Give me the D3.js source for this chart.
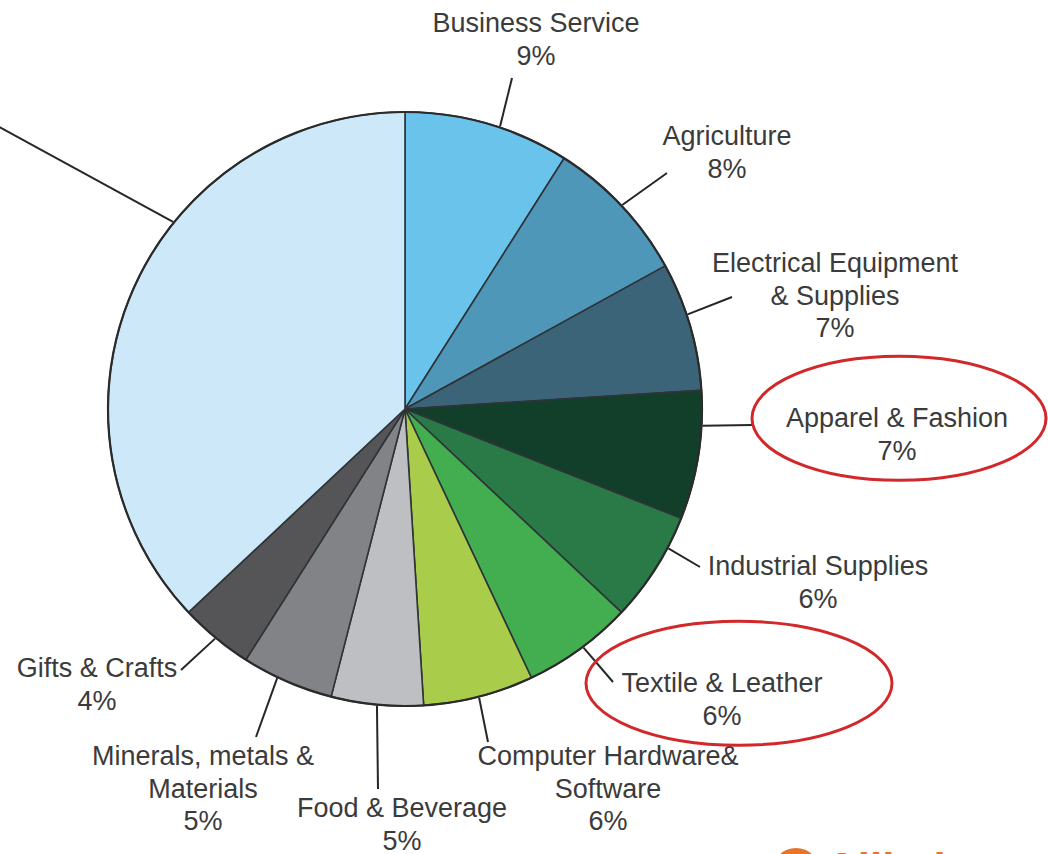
<!DOCTYPE html>
<html>
<head>
<meta charset="utf-8">
<script src="https://cdn.jsdelivr.net/npm/d3@7"></script>
<style>
  html, body { margin: 0; padding: 0; background: #ffffff; }
  #svg-graph { display: block; }
  .label { font-family: "Liberation Sans", Arial, sans-serif; font-size: 27px; fill: #3b3b3b; }
</style>
</head>
<body>
<svg id="svg-graph" width="1048" height="854"></svg>
<script>
// chart data
const categories = [
  "Business Service",
  "Agriculture",
  "Electrical Equipment & Supplies",
  "Apparel & Fashion",
  "Industrial Supplies",
  "Textile & Leather",
  "Computer Hardware& Software",
  "Food & Beverage",
  "Minerals, metals & Materials",
  "Gifts & Crafts",
  "Others",
];
const shares = [9, 8, 7, 7, 6, 6, 6, 5, 5, 4, 37];
const shareLabels = ["9%", "8%", "7%", "7%", "6%", "6%", "6%", "5%", "5%", "4%", "37%"];
const highlighted = ["Apparel & Fashion", "Textile & Leather"];

const sliceColors = [
  "#6ac3ea", "#4f97b8", "#3b6479", "#123f2a", "#2a7a47", "#43ae4f",
  "#a9cc4a", "#bdbfc2", "#818386", "#555557", "#cde8f8",
];

// where each label sits (text lines, anchor x, first baseline, leader end, rim angle shift in degrees)
// the big slice's label lies outside the picture in the original, so only its leader is drawn
const labelLayout = [
  { lines: ["Business Service"], x: 536, y: 32, end: [512, 78], shift: 2.4 },
  { lines: ["Agriculture"], x: 727, y: 145, end: [667, 173], shift: 0 },
  { lines: ["Electrical Equipment", "& Supplies"], x: 835, y: 272, end: [732, 297], shift: -2.3 },
  { lines: ["Apparel & Fashion"], x: 897, y: 427, end: [752, 425], shift: -5.8 },
  { lines: ["Industrial Supplies"], x: 818, y: 575, end: [700, 567], shift: -4.5 },
  { lines: ["Textile & Leather"], x: 722, y: 692, end: [613, 682], shift: -0.8 },
  { lines: ["Computer Hardware&", "Software"], x: 608, y: 765, end: [488, 742], shift: 0 },
  { lines: ["Food & Beverage"], x: 402, y: 817, end: [378, 789], shift: 0 },
  { lines: ["Minerals, metals &", "Materials"], x: 203, y: 765, end: [256, 737], shift: 2 },
  { lines: ["Gifts & Crafts"], x: 97, y: 677, end: [181, 670], shift: 0 },
  { lines: null, x: 0, y: 0, end: [-10, 122], shift: 15.5 },
];

const svg = d3.select("#svg-graph");
const cx = 405;
const cy = 409;
const radius = 297;
const lineHeight = 32.5;

const dataset = categories.map((name, i) => ({
  name: name,
  value: shares[i],
  pct: shareLabels[i],
  color: sliceColors[i],
  layout: labelLayout[i],
}));

//Build the pie layout, clockwise from 12 o'clock, keeping the given order
const pie = d3.pie().value((d) => d.value).sort(null);
const arcs = pie(dataset);
const arc = d3.arc().innerRadius(0).outerRadius(radius);

const chart = svg.append("g").attr("transform", `translate(${cx},${cy})`);

//Draw slices
chart
  .selectAll("path.slice")
  .data(arcs)
  .enter()
  .append("path")
  .attr("class", "slice")
  .attr("d", arc)
  .attr("fill", (d) => d.data.color)
  .attr("stroke", "#2e3438")
  .attr("stroke-width", 1.6)
  .attr("stroke-linejoin", "round");

//Outer rim a bit heavier
chart
  .append("circle")
  .attr("r", radius)
  .attr("fill", "none")
  .attr("stroke", "#2b2b2b")
  .attr("stroke-width", 2.2);

//Leader lines, from the rim to the label
const rimPoint = (d) => {
  const a = (d.startAngle + d.endAngle) / 2 + (d.data.layout.shift * Math.PI) / 180;
  return [cx + (radius + 1) * Math.sin(a), cy - (radius + 1) * Math.cos(a)];
};

svg
  .selectAll("line.leader")
  .data(arcs)
  .enter()
  .append("line")
  .attr("class", "leader")
  .attr("x1", (d) => rimPoint(d)[0])
  .attr("y1", (d) => rimPoint(d)[1])
  .attr("x2", (d) => d.data.layout.end[0])
  .attr("y2", (d) => d.data.layout.end[1])
  .attr("stroke", "#262626")
  .attr("stroke-width", 2);

//Labels: category name lines plus the share
const labels = svg
  .selectAll("text.label")
  .data(arcs.filter((d) => d.data.layout.lines))
  .enter()
  .append("text")
  .attr("class", "label")
  .attr("text-anchor", "middle");

labels.each(function (d) {
  const lay = d.data.layout;
  const allLines = lay.lines.concat([d.data.pct]);
  d3.select(this)
    .selectAll("tspan")
    .data(allLines)
    .enter()
    .append("tspan")
    .attr("x", lay.x)
    .attr("y", (t, i) => lay.y + i * lineHeight)
    .text((t) => t);
});

//Red rings round the highlighted labels
svg
  .selectAll("ellipse.ring")
  .data(arcs.filter((d) => highlighted.includes(d.data.name)))
  .enter()
  .append("ellipse")
  .attr("class", "ring")
  .attr("cx", (d) => d.data.layout.x + 2 + (d.data.name === "Textile & Leather" ? 15 : 0))
  .attr("cy", (d) => d.data.layout.y + lineHeight / 2 - 25)
  .attr("rx", (d) => (d.data.name === "Textile & Leather" ? 153 : 147))
  .attr("ry", 62)
  .attr("fill", "none")
  .attr("stroke", "#d3282a")
  .attr("stroke-width", 3);

//Watermark peeking in at the bottom right
const mark = svg.append("g").attr("id", "watermark");
mark.append("circle").attr("cx", 796).attr("cy", 872).attr("r", 24).attr("fill", "#e8742a");
mark
  .append("text")
  .attr("x", 826)
  .attr("y", 884)
  .attr("font-family", "Liberation Sans, Arial, sans-serif")
  .attr("font-weight", "bold")
  .attr("font-size", 44)
  .attr("fill", "#e8742a")
  .text("Alibaba.com");
</script>
</body>
</html>
